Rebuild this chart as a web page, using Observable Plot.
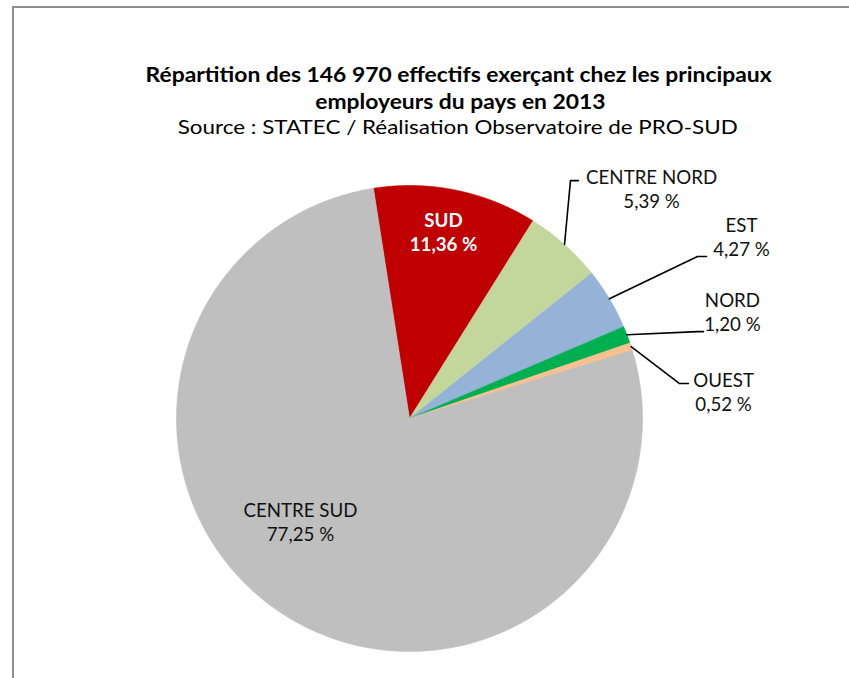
<!DOCTYPE html>
<html>
<head>
<meta charset="utf-8">
<script src="https://cdn.jsdelivr.net/npm/d3@7"></script>
<script src="https://cdn.jsdelivr.net/npm/@observablehq/plot@0.6"></script>
<style>
  html, body { margin: 0; padding: 0; background: #fff; }
  #wrap { position: relative; width: 849px; height: 678px; overflow: hidden; font-family: Lato, "Open Sans", sans-serif; }
  #frame { position: absolute; left: 12px; top: 6px; width: 900px; height: 720px; border-top: 2px solid #8f8f8f; border-left: 2px solid #8f8f8f; }
  .t { position: absolute; left: 0; width: 916px; text-align: center; color: #000; line-height: 1; white-space: nowrap; }
  .t span { display: inline-block; transform-origin: 50% 50%; }
  #chart { position: absolute; left: 0; top: 0; }
</style>
</head>
<body>
<div id="wrap">
  <div id="frame"></div>
  <div id="chart"></div>
  <div class="t" id="t1"><span></span></div>
  <div class="t" id="t2"><span></span></div>
  <div class="t" id="t3"><span></span></div>
</div>
<script>
// ---- data ----
const titleLines = ["Répartition des 146 970 effectifs exerçant chez les principaux", "employeurs du pays en 2013"];
const subtitle = "Source : STATEC / Réalisation Observatoire de PRO-SUD";
const names = ["SUD", "CENTRE NORD", "EST", "NORD", "OUEST", "CENTRE SUD"];
const shares = [11.36, 5.39, 4.27, 1.20, 0.52, 77.25];
const shareLabels = ["11,36 %", "5,39 %", "4,27 %", "1,20 %", "0,52 %", "77,25 %"];
const colors = ["#C00000", "#C3D69B", "#95B3D7", "#00B050", "#FAC090", "#BFBFBF"];

// ---- layout (unit-circle coordinates, y downward) ----
const startDeg = -8.9;
const labelAt = {
  "SUD": [0.146, -0.803],
  "CENTRE NORD": [1.039, -0.989],
  "EST": [1.425, -0.781],
  "NORD": [1.386, -0.459],
  "OUEST": [1.348, -0.116],
  "CENTRE SUD": [-0.468, 0.442]
};
const elbows = {
  "CENTRE NORD": [[0.691, -1.021], [0.725, -1.021]],
  "EST": [[1.236, -0.695], [1.275, -0.695]],
  "NORD": [[1.236, -0.373], [1.262, -0.373]],
  "OUEST": [[1.159, -0.150], [1.197, -0.150]]
};

// ---- font fitting ----
const ctx = document.createElement("canvas").getContext("2d");
function measure(text, weight, size) {
  ctx.font = `${weight} ${size}px Lato`;
  return ctx.measureText(text).width;
}
const labelSize = 100 * 114 / measure("CENTRE SUD", "normal", 100);

const titleSize = 21;
const titleK = 626 / measure(titleLines[0], "bold", titleSize);
const subSize = 20;
const subK = 560 / measure(subtitle, "normal", subSize);

function place(id, text, size, weight, k, cy, cx) {
  const el = document.getElementById(id);
  const sp = el.firstElementChild;
  sp.textContent = text;
  el.style.fontSize = size + "px";
  el.style.fontWeight = weight;
  sp.style.transform = `scaleX(${k})`;
  el.style.top = (cy - 0.53 * size) + "px";
  el.style.left = (cx - 458) + "px";
}
place("t1", titleLines[0], titleSize, "bold", titleK, 74, 459);
place("t2", titleLines[1], titleSize, "bold", titleK, 101, 460);
place("t3", subtitle, subSize, "normal", subK, 127, 458);

// ---- pie geometry ----
const rows = names.map((n, i) => ({name: n, value: shares[i], label: shareLabels[i], color: colors[i]}));
const start = startDeg * Math.PI / 180;
const arcs = d3.pie().sort(null).value(d => d.value).startAngle(start).endAngle(start + 2 * Math.PI)(rows);
const polyPts = [];
for (const a of arcs) {
  polyPts.push({name: a.data.name, x: 0, y: 0});
  const n = Math.max(4, Math.ceil((a.endAngle - a.startAngle) / (Math.PI / 360)));
  for (let k = 0; k <= n; k++) {
    const t = a.startAngle + (a.endAngle - a.startAngle) * k / n;
    polyPts.push({name: a.data.name, x: Math.sin(t), y: -Math.cos(t)});
  }
  polyPts.push({name: a.data.name, x: 0, y: 0});
}
const leaderPts = [];
for (const a of arcs) {
  const e = elbows[a.data.name];
  if (!e) continue;
  const mid = (a.startAngle + a.endAngle) / 2;
  leaderPts.push({name: a.data.name, x: Math.sin(mid), y: -Math.cos(mid)});
  for (const p of e) leaderPts.push({name: a.data.name, x: p[0], y: p[1]});
}
const textRows = arcs.map(a => ({
  name: a.data.name,
  text: a.data.name + "\n" + a.data.label,
  x: labelAt[a.data.name][0],
  y: labelAt[a.data.name][1],
  inside: a.data.name === "SUD"
}));

const plot = Plot.plot({
  width: 849,
  height: 678,
  marginLeft: 176,
  marginRight: 207,
  marginTop: 185,
  marginBottom: 27,
  x: {domain: [-1, 1], axis: null},
  y: {domain: [-1, 1], reverse: true, axis: null},
  color: {domain: names, range: colors},
  style: {background: "transparent", overflow: "visible"},
  marks: [
    Plot.line(polyPts, {x: "x", y: "y", z: "name", fill: "name", stroke: "name", strokeWidth: 0.6, curve: "linear"}),
    Plot.line(leaderPts, {x: "x", y: "y", z: "name", stroke: "#000", strokeWidth: 1.6, curve: "linear"}),
    Plot.text(textRows.filter(d => !d.inside), {x: "x", y: "y", text: "text", fill: "#111", fontSize: labelSize, lineHeight: 1.3, fontFamily: "Lato", textAnchor: "middle", lineAnchor: "middle"}),
    Plot.text(textRows.filter(d => d.inside), {x: "x", y: "y", text: "text", fill: "#fff", fontSize: labelSize, fontWeight: "bold", lineHeight: 1.3, fontFamily: "Lato", textAnchor: "middle", lineAnchor: "middle"})
  ]
});
document.getElementById("chart").appendChild(plot);
</script>
</body>
</html>
